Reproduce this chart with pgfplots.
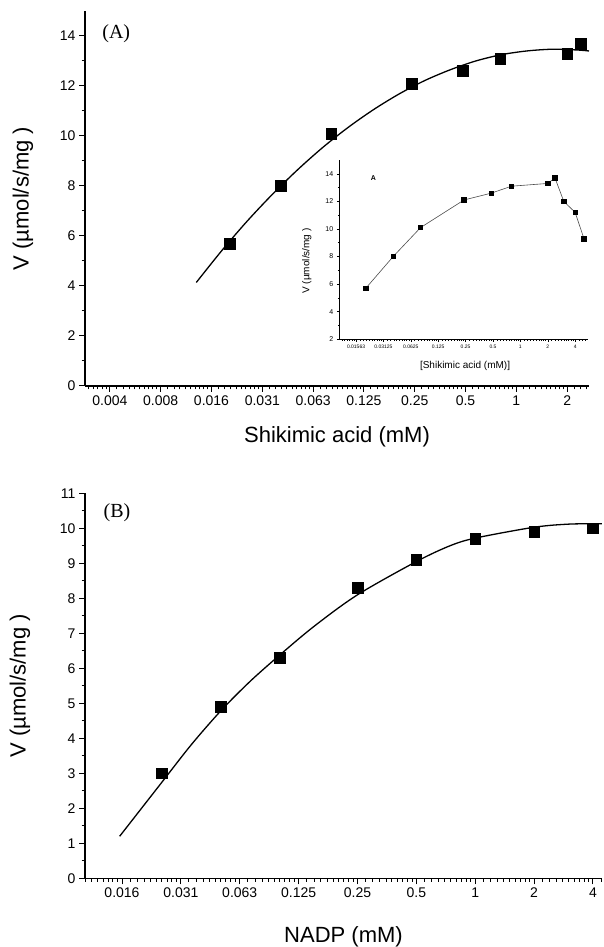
\documentclass[border=0pt]{standalone}
\usepackage{fontspec}
\setmainfont{Liberation Sans}
\newfontfamily\serif{Liberation Serif}
\usepackage{pgfplots}
\pgfplotsset{compat=1.18}

% minor ticks for the log2 axes: 2^k*(1+i/10)
\def\minorlist{}
\foreach \k in {-10,...,2}{%
  \foreach \i in {1,...,9}{%
    \pgfmathsetmacro\mv{2^(\k)*(1+\i/10)}%
    \xdef\minorlist{\minorlist\mv,}%
  }%
}
\xdef\minorlist{\minorlist 100}

\begin{document}
\begin{tikzpicture}
\useasboundingbox (0,0) rectangle (603pt,947pt);

% (A) main
\begin{axis}[
  scale only axis, xmode=log,
  /pgf/number format/assume math mode=true,
  axis x line*=bottom, axis y line*=left,
  axis line style={line width=1.1pt},
  tick align=outside, major tick length=6pt, minor tick length=3.5pt,
  every tick/.style={line width=1pt, black},
  tick label style={font=\fontsize{14}{14}\selectfont},
  label style={font=\fontsize{22}{22}\selectfont},
  clip=false,
  at={(85pt,561pt)}, anchor=south west, width=504pt, height=375pt,
  xmin=0.002781, xmax=2.694, ymin=0, ymax=15,
  ytick={0,2,...,14}, minor ytick={1,3,...,13},
  xtick={0.00390625,0.0078125,0.015625,0.03125,0.0625,0.125,0.25,0.5,1,2},
  xticklabels={0.004,0.008,0.016,0.031,0.063,0.125,0.25,0.5,1,2},
  minor xtick/.expanded={\minorlist},
  xlabel={Shikimic acid (mM)}, ylabel={V (µmol/s/mg )},
  x label style={at={(axis description cs:0.5,-0.136)}, anchor=center},
  y label style={at={(axis description cs:-0.123,0.5)}, anchor=center},
]
\addplot[black, line width=1.3pt, smooth] coordinates {
  (0.01269,4.14) (0.01795,5.41) (0.02538,6.59) (0.03590,7.67)
  (0.05077,8.66) (0.07180,9.56) (0.10153,10.36) (0.14359,11.07)
  (0.20306,11.69) (0.28717,12.22) (0.40613,12.65) (0.57435,13.00)
  (0.81225,13.25) (1.14870,13.40) (1.62450,13.47) (2.29740,13.44)
  (2.6945,13.40)};
\addplot[only marks, mark=square*, mark size=5.3pt, black] coordinates {
  (0.02,5.7) (0.04,8.0) (0.08,10.1) (0.24,12.1) (0.48,12.6)
  (0.8,13.1) (2,13.3) (2.4,13.7)};
\node[font=\serif\fontsize{20}{20}\selectfont] at (axis description cs:0.062,0.939) {(A)};
\end{axis}

% inset
\begin{axis}[
  scale only axis, xmode=log,
  /pgf/number format/assume math mode=true,
  axis x line*=bottom, axis y line*=left,
  axis line style={line width=0.6pt},
  tick align=outside, major tick length=2.5pt, minor tick length=1.5pt,
  every tick/.style={line width=0.5pt, black},
  xticklabel style={font=\fontsize{5}{5}\selectfont},
  yticklabel style={font=\fontsize{7}{7}\selectfont},
  label style={font=\fontsize{10}{10}\selectfont},
  clip=false,
  at={(339.3pt,607.7pt)}, anchor=south west, width=249pt, height=179.3pt,
  xmin=0.01023, xmax=5.58, ymin=2, ymax=15,
  ytick={2,4,...,14}, minor ytick={3,5,...,13},
  xtick={0.015625,0.03125,0.0625,0.125,0.25,0.5,1,2,4},
  xticklabels={0.01563,0.03125,0.0625,0.125,0.25,0.5,1,2,4},
  minor xtick/.expanded={\minorlist},
  xlabel={[Shikimic acid (mM)]}, ylabel={V (µmol/s/mg )},
  x label style={at={(axis description cs:0.505,-0.149)}, anchor=center},
  y label style={at={(axis description cs:-0.131,0.437)}, anchor=center},
]
\addplot[black!70, line width=0.6pt, mark=square*, mark size=2.2pt, mark options={black}] coordinates {
  (0.02,5.7) (0.04,8.0) (0.08,10.1) (0.24,12.1) (0.48,12.6)
  (0.8,13.1) (2,13.3) (2.4,13.7) (3,12.0) (4,11.2) (5,9.3)};
\node[font=\bfseries\fontsize{7}{7}\selectfont] at (axis description cs:0.137,0.898) {A};
\end{axis}

% (B)
\begin{axis}[
  scale only axis, xmode=log,
  /pgf/number format/assume math mode=true,
  axis x line*=bottom, axis y line*=left,
  axis line style={line width=1.1pt},
  tick align=outside, major tick length=6pt, minor tick length=3.5pt,
  every tick/.style={line width=1pt, black},
  tick label style={font=\fontsize{14}{14}\selectfont},
  label style={font=\fontsize{22}{22}\selectfont},
  clip=false,
  at={(85pt,68.7pt)}, anchor=south west, width=517pt, height=385pt,
  xmin=0.010106, xmax=4.448, ymin=0, ymax=11,
  ytick={0,1,...,11}, minor ytick={0.5,1.5,...,10.5},
  xtick={0.015625,0.03125,0.0625,0.125,0.25,0.5,1,2,4},
  xticklabels={0.016,0.031,0.063,0.125,0.25,0.5,1,2,4},
  minor xtick/.expanded={\minorlist},
  xlabel={NADP (mM)}, ylabel={V (µmol/s/mg )},
  x label style={at={(axis description cs:0.5,-0.151)}, anchor=center},
  y label style={at={(axis description cs:-0.126,0.5)}, anchor=center},
]
\addplot[black, line width=1.3pt, smooth] coordinates {
  (0.015197,1.2) (0.02503,2.75) (0.03536,3.82) (0.05029,4.8) (0.07071,5.63)
  (0.10014,6.38) (0.15,7.2) (0.25,8.1) (0.5,9.05) (0.7423,9.5) (1,9.72)
  (2,10.03) (3.0314,10.12) (4.4383,10.13)};
\addplot[only marks, mark=square*, mark size=5.3pt, black] coordinates {
  (0.025,3.0) (0.05,4.9) (0.1,6.3) (0.25,8.3) (0.5,9.1)
  (1,9.7) (2,9.9) (4,10.0)};
\node[font=\serif\fontsize{20}{20}\selectfont] at (axis description cs:0.062,0.949) {(B)};
\end{axis}
\end{tikzpicture}
\end{document}
